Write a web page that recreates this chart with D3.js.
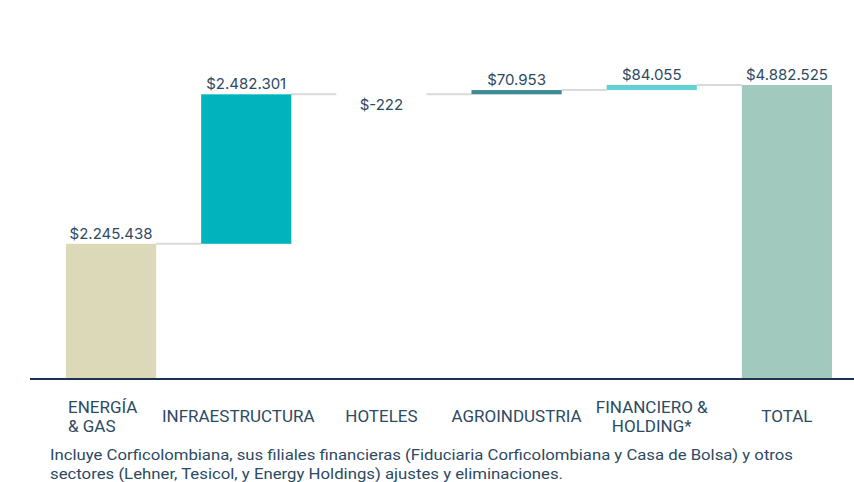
<!DOCTYPE html>
<html>
<head>
<meta charset="utf-8">
<script src="https://cdn.jsdelivr.net/npm/d3@7"></script>
<style>
  body { margin: 0; background: #fff; }
  svg { display: block; }
</style>
</head>
<body>
<svg id="chart" width="854" height="482"></svg>
<script>
// data
const categories = ["ENERGÍA\n& GAS", "INFRAESTRUCTURA", "HOTELES", "AGROINDUSTRIA", "FINANCIERO &\nHOLDING*", "TOTAL"];
const values = [2245438, 2482301, -222, 70953, 84055, 4882525];
const valueLabels = ["$2.245.438", "$2.482.301", "$-222", "$70.953", "$84.055", "$4.882.525"];
const colors = ["#dcd9b9", "#00b3bc", "#ffffff", "#3f8b95", "#62d1d7", "#a2c9bd"];
const footnote = [
    "Incluye Corficolombiana, sus filiales financieras (Fiduciaria Corficolombiana y Casa de Bolsa) y otros",
    "sectores (Lehner, Tesicol, y Energy Holdings) ajustes y eliminaciones."
];
const footnoteWidths = [743, 513];

const textColor = "#2c4a62";
const labelFont = "Roboto, 'Noto Sans', sans-serif";

// build waterfall steps
let running = 0;
const steps = values.map((v, i) => {
    const isTotal = i === values.length - 1;
    const start = isTotal ? 0 : running;
    const end = isTotal ? v : running + v;
    if (!isTotal) running = end;
    return { cat: categories[i], value: v, start: start, end: end, label: valueLabels[i], color: colors[i] };
});

const svg = d3.select("#chart");

const x = d3.scaleBand()
    .domain(categories)
    .range([66, 832])
    .paddingInner(0.333)
    .paddingOuter(0);

const y = d3.scaleLinear()
    .domain([0, 4882525])
    .range([379, 85]);

// connector lines
svg.append("g")
    .selectAll("line")
    .data(steps.slice(0, -1))
    .enter()
    .append("line")
    .attr("x1", (d) => x(d.cat) + x.bandwidth())
    .attr("x2", (d, i) => x(categories[i + 1]))
    .attr("y1", (d) => y(d.end))
    .attr("y2", (d) => y(d.end))
    .attr("stroke", "#d9d9d9")
    .attr("stroke-width", 2);

// bars
svg.append("g")
    .selectAll("rect")
    .data(steps)
    .enter()
    .append("rect")
    .attr("x", (d) => x(d.cat))
    .attr("width", x.bandwidth())
    .attr("y", (d) => y(Math.max(d.start, d.end)))
    .attr("height", (d) => Math.abs(y(d.start) - y(d.end)))
    .attr("fill", (d) => d.color);

// value labels
svg.append("g")
    .selectAll("text")
    .data(steps)
    .enter()
    .append("text")
    .attr("x", (d) => x(d.cat) + x.bandwidth() / 2)
    .attr("y", (d) => d.value < 0 ? y(d.start) + 16 : y(Math.max(d.start, d.end)) - 5)
    .attr("text-anchor", "middle")
    .attr("font-family", "Inter, 'Noto Sans', sans-serif")
    .attr("font-size", 15)
    .attr("fill", textColor)
    .text((d) => d.label);

// baseline axis
const xAxis = d3.axisBottom(x).tickSize(0).tickFormat("");
const axisG = svg.append("g")
    .attr("transform", "translate(0," + y(0) + ")")
    .call(xAxis);
axisG.select(".domain").remove();
axisG.append("line")
    .attr("x1", 30).attr("x2", 854)
    .attr("stroke", "#1c3450").attr("stroke-width", 2);

// category labels (first one is left aligned in the reference)
const catG = svg.append("g")
    .selectAll("text")
    .data(categories)
    .enter()
    .append("text")
    .attr("text-anchor", (d, i) => i === 0 ? "start" : "middle")
    .attr("font-family", labelFont)
    .attr("font-size", 17)
    .attr("fill", textColor);

catG.each(function (c, i) {
    const lines = c.split("\n");
    let cx = i === 0 ? x(c) + 2 : x(c) + x.bandwidth() / 2;
    if (i === 1) cx -= 8;
    const t = d3.select(this);
    const top = lines.length === 1 ? 422 : 413;
    lines.forEach((ln, k) => {
        t.append("tspan")
            .attr("x", cx)
            .attr("y", top + k * 19)
            .text(ln);
    });
});

// footnote
svg.append("g")
    .selectAll("text")
    .data(footnote)
    .enter()
    .append("text")
    .attr("x", 50)
    .attr("y", (d, i) => 460 + i * 19)
    .attr("font-family", labelFont)
    .attr("font-size", 15.5)
    .attr("textLength", (d, i) => footnoteWidths[i])
    .attr("lengthAdjust", "spacingAndGlyphs")
    .attr("fill", textColor)
    .text((d) => d);
</script>
</body>
</html>
